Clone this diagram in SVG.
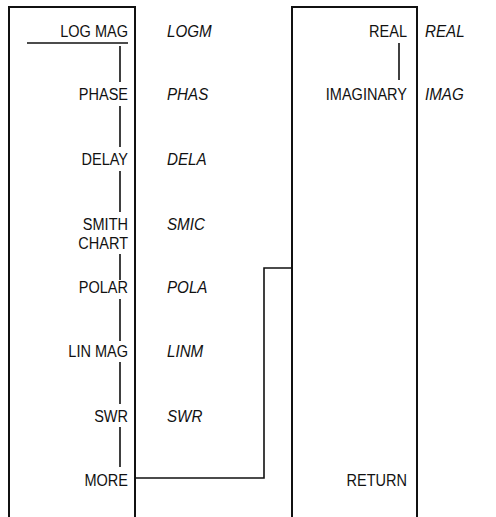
<svg xmlns="http://www.w3.org/2000/svg" width="496" height="517" viewBox="0 0 496 517">
<style>
.box{fill:none;stroke:#111;stroke-width:2}
.ln{fill:none;stroke:#111;stroke-width:1.6}
.k{font-family:"Liberation Sans",Arial,sans-serif;font-size:16.5px;fill:#111;text-anchor:end}
.m{font-family:"Liberation Sans",Arial,sans-serif;font-size:16.5px;font-style:italic;fill:#111}
</style>
<rect width="496" height="517" fill="#fff"/>
<g id="menu-left">
<path class="box" d="M9,517 V7 H135 V517"/>
<g transform="translate(128,0) scale(0.88,1)">
<text class="k" x="0" y="37">LOG MAG</text>
<text class="k" x="0" y="100">PHASE</text>
<text class="k" x="0" y="165">DELAY</text>
<text class="k" x="0" y="230">SMITH</text>
<text class="k" x="0" y="249">CHART</text>
<text class="k" x="0" y="293">POLAR</text>
<text class="k" x="0" y="357">LIN MAG</text>
<text class="k" x="0" y="422">SWR</text>
<text class="k" x="0" y="486">MORE</text>
</g>
</g>
<g id="mnemonics-left" transform="translate(167,0) scale(0.92,1)">
<text class="m" x="0" y="37">LOGM</text>
<text class="m" x="0" y="100">PHAS</text>
<text class="m" x="0" y="165">DELA</text>
<text class="m" x="0" y="230">SMIC</text>
<text class="m" x="0" y="293">POLA</text>
<text class="m" x="0" y="357">LINM</text>
<text class="m" x="0" y="422">SWR</text>
</g>
<g id="menu-right">
<path class="box" d="M292,517 V7 H417 V517"/>
<g transform="translate(407,0) scale(0.88,1)">
<text class="k" x="0" y="37">REAL</text>
<text class="k" x="0" y="100">IMAGINARY</text>
<text class="k" x="0" y="486">RETURN</text>
</g>
</g>
<g id="mnemonics-right" transform="translate(425,0) scale(0.92,1)">
<text class="m" x="0" y="37">REAL</text>
<text class="m" x="0" y="100">IMAG</text>
</g>
<g id="connectors">
<path class="ln" d="M27,43 H128"/>
<path class="ln" d="M120,46 V82 M120,106 V147 M120,171 V212 M120,254 V280 M120,299 V341 M120,362 V404 M120,427 V467"/>
<path class="ln" d="M399,43 V80"/>
<path class="ln" d="M135,478 H264 V268 H292"/>
</g>
</svg>
